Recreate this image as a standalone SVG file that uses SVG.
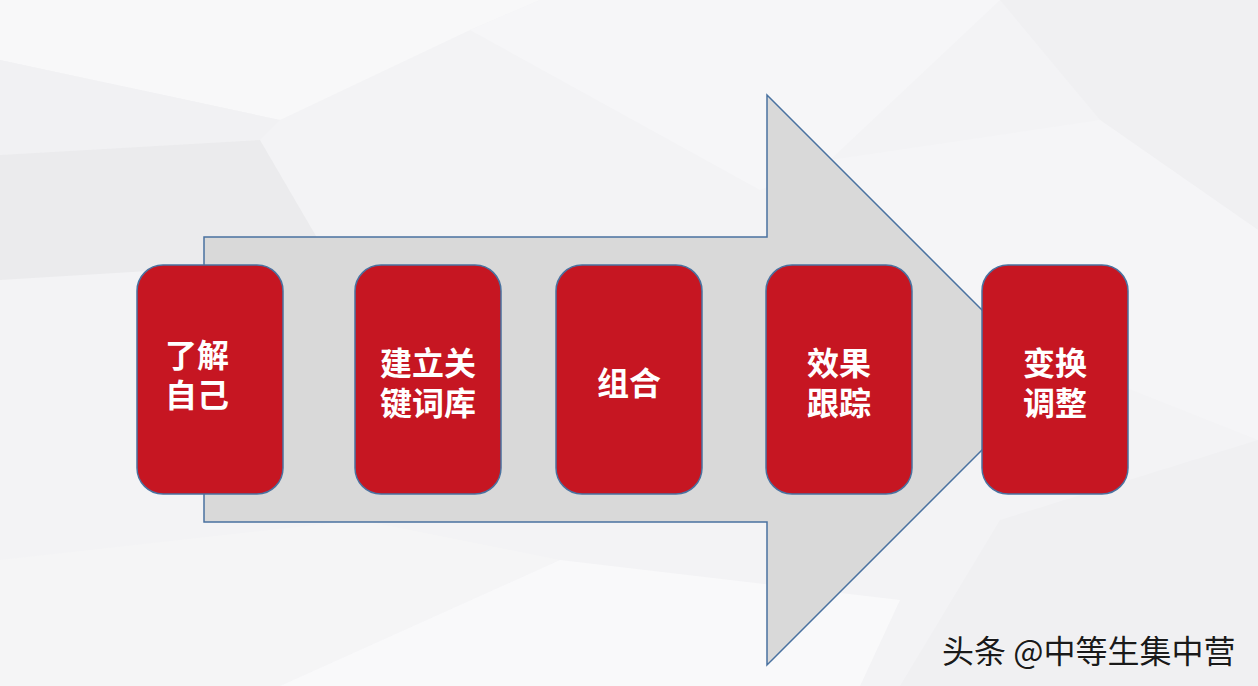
<svg xmlns="http://www.w3.org/2000/svg" width="1258" height="686" viewBox="0 0 1258 686">
<defs>
<style>
.bg{stroke:none}
.box{fill:#c61622;stroke:#4a72a0;stroke-width:1.5}
.lbl{font-family:"Noto Sans CJK SC","Noto Sans CJK JP",sans-serif;font-weight:700;font-size:32px;fill:#ffffff}
.wm{font-family:"Noto Sans CJK SC",sans-serif;font-size:32px;fill:#1a1a1a;stroke:#ffffff;stroke-width:0.6;paint-order:stroke}
</style>
</defs>
<g id="background">
<rect class="bg" x="0" y="0" width="1258" height="686" fill="#f3f3f5"/>
<polygon class="bg" points="0,0 540,0 470,30 280,120 0,60" fill="#f8f8f9"/>
<polygon class="bg" points="0,60 280,120 260,140 0,155" fill="#f1f1f3"/>
<polygon class="bg" points="0,155 260,140 330,260 0,280" fill="#ebebed"/>
<polygon class="bg" points="540,0 1000,0 830,160 760,190 470,30" fill="#f6f6f8"/>
<polygon class="bg" points="1000,0 1258,0 1258,230 1100,120" fill="#f0f0f2"/>
<polygon class="bg" points="830,160 1100,120 1258,230 1258,440 980,330" fill="#f5f5f7"/>
<polygon class="bg" points="0,560 360,520 560,560 280,686 0,686" fill="#f5f5f6"/>
<polygon class="bg" points="560,560 900,600 860,686 280,686" fill="#f9f9fa"/>
<polygon class="bg" points="1000,520 1258,440 1258,686 900,686" fill="#f0f0f2"/>
</g>
<g id="connectors">
<polygon points="204,237 767,237 767,95 1052,380 767,665 767,522 204,522" fill="#d9d9d9" stroke="#4a72a0" stroke-width="1.5"/>
</g>
<g id="node1">
<rect class="box" x="137" y="265" width="146" height="229" rx="26"/>
<text class="lbl" x="165" y="367">了解</text>
<text class="lbl" x="165" y="407">自己</text>
</g>
<g id="node2">
<rect class="box" x="355" y="265" width="146" height="229" rx="26"/>
<text class="lbl" x="428" y="375" text-anchor="middle">建立关</text>
<text class="lbl" x="428" y="415" text-anchor="middle">键词库</text>
</g>
<g id="node3">
<rect class="box" x="556" y="265" width="146" height="229" rx="26"/>
<text class="lbl" x="629" y="395" text-anchor="middle">组合</text>
</g>
<g id="node4">
<rect class="box" x="766" y="265" width="146" height="229" rx="26"/>
<text class="lbl" x="839" y="375" text-anchor="middle">效果</text>
<text class="lbl" x="839" y="415" text-anchor="middle">跟踪</text>
</g>
<g id="node5">
<rect class="box" x="982" y="265" width="146" height="229" rx="26"/>
<text class="lbl" x="1055" y="375" text-anchor="middle">变换</text>
<text class="lbl" x="1055" y="415" text-anchor="middle">调整</text>
</g>
<g id="watermark">
<text class="wm" x="942" y="663">头条 @中等生集中营</text>
</g>
</svg>
